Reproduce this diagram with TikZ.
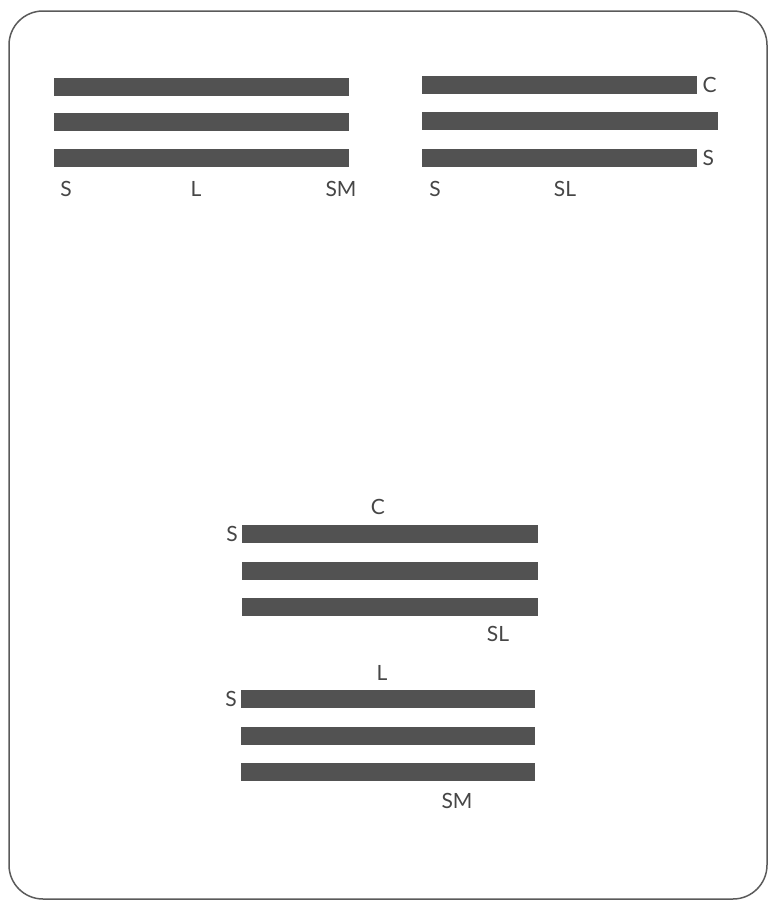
\documentclass[tikz,border=0pt]{standalone}
\usepackage{fontspec}
\setmainfont{Lato}
\usepackage{tikz}
\usetikzlibrary{positioning}
\definecolor{bargray}{RGB}{82, 82, 82}
\definecolor{textgray}{RGB}{70, 70, 70}
\definecolor{framegray}{RGB}{90, 90, 90}

\begin{document}
\begin{tikzpicture}[x=1pt, y=-1pt,
    bar/.style={rectangle, fill=bargray, inner sep=0pt, anchor=north west,
      minimum height=18pt},
    lbl/.style={text=textgray, inner sep=0pt, font=\fontsize{21}{24}\selectfont}]
  \useasboundingbox (0,0) rectangle (772,900);
  % outer frame
  \draw[framegray, line width=1.5pt, rounded corners=34pt] (9,11) rectangle (767,899);

  % top left group
  \node[bar, minimum width=295pt] (tl1) at (54,78) {};
  \node[bar, minimum width=295pt] (tl2) at (54,113) {};
  \node[bar, minimum width=295pt] (tl3) at (54,149) {};
  \node[lbl] (tlS)  at (66,189)  {S};
  \node[lbl] (tlL)  at (196,189) {L};
  \node[lbl] (tlSM) at (341,189) {SM};

  % top right group
  \node[bar, minimum width=275pt] (tr1) at (422,76) {};
  \node[bar, minimum width=296pt] (tr2) at (422,112) {};
  \node[bar, minimum width=275pt] (tr3) at (422,149) {};
  \node[lbl, right=5pt of tr1] (trC) {C};
  \node[lbl, right=5pt of tr3] (trS) {S};
  \node[lbl] (trS2) at (435,189) {S};
  \node[lbl] (trSL) at (565,189) {SL};

  % lower group, first
  \node[bar, minimum width=296pt] (ma1) at (242,525) {};
  \node[bar, minimum width=296pt] (ma2) at (242,562) {};
  \node[bar, minimum width=296pt] (ma3) at (242,598) {};
  \node[lbl] (maC)  at (378,507) {C};
  \node[lbl, left=4pt of ma1] (maS) {S};
  \node[lbl] (maSL) at (498,634) {SL};

  % lower group, second
  \node[bar, minimum width=294pt] (mb1) at (241,690) {};
  \node[bar, minimum width=294pt] (mb2) at (241,727) {};
  \node[bar, minimum width=294pt] (mb3) at (241,763) {};
  \node[lbl] (mbL)  at (382,673) {L};
  \node[lbl, left=4pt of mb1] (mbS) {S};
  \node[lbl] (mbSM) at (457,801) {SM};
\end{tikzpicture}
\end{document}
